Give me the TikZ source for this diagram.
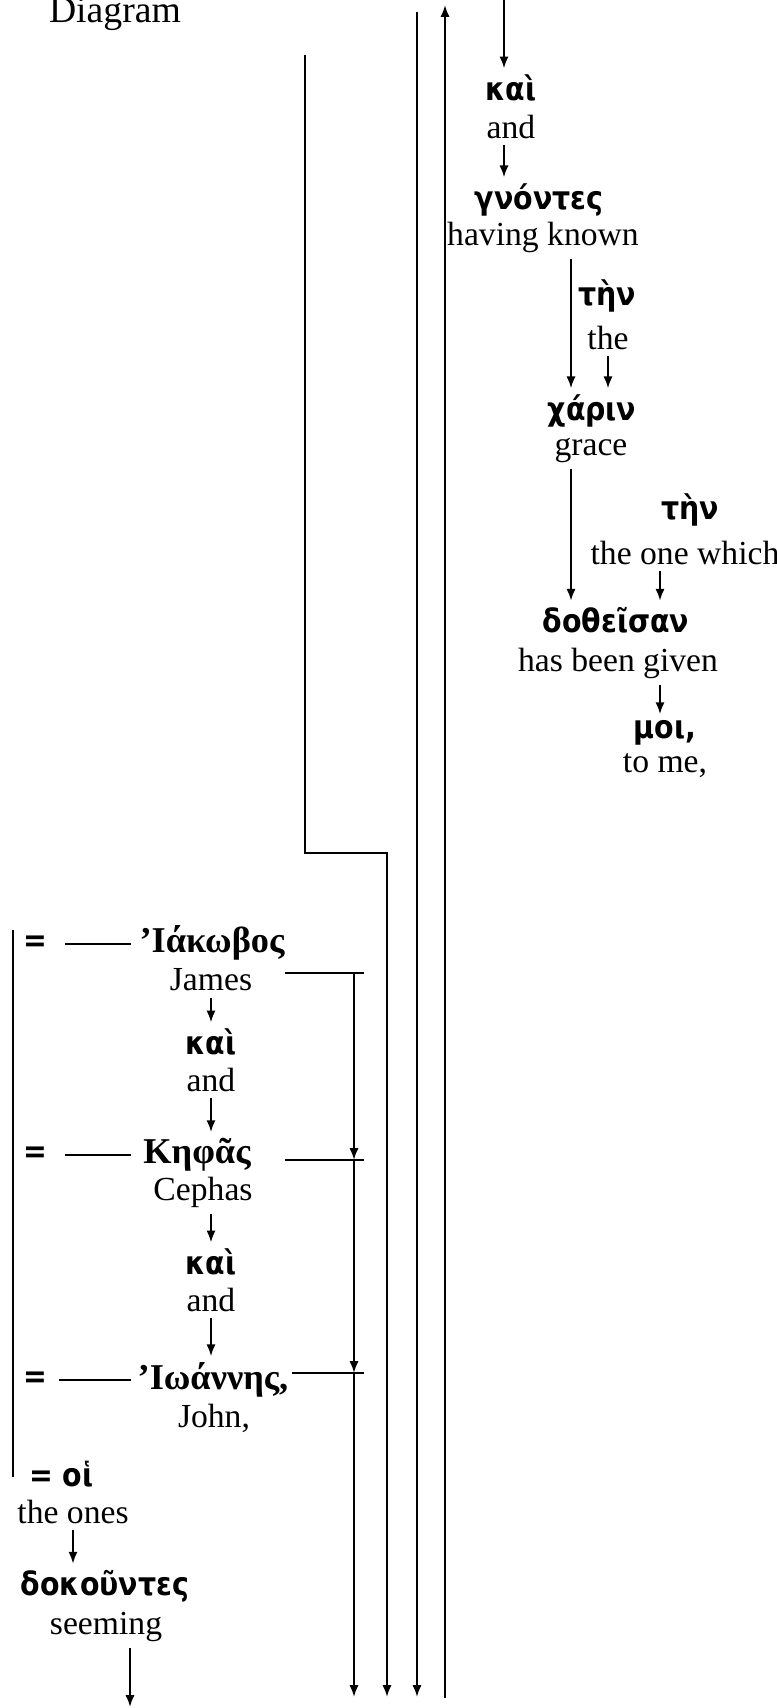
\documentclass[tikz,border=0pt]{standalone}
\usepackage{fontspec}
\setmainfont{Liberation Serif}
\newfontfamily\grk[FakeStretch=0.88]{DejaVu Sans}
\newfontfamily\grkserif{Liberation Serif}
\usetikzlibrary{arrows.meta,calc}
\begin{document}
\begin{tikzpicture}[x=0.3715pt, y=-0.3715pt, >={Latex[length=4.4pt,width=3.4pt]}, line width=.75pt,
	gk/.style={font=\grk\bfseries\fontsize{12}{14}\selectfont, inner sep=2pt},
	gs/.style={font=\grkserif\bfseries\fontsize{13.5}{15}\selectfont, inner sep=2pt},
	en/.style={font=\fontsize{12.5}{14}\selectfont, inner sep=2pt}]
	\useasboundingbox (0,0) rectangle (777,1708);
	\node[anchor=base west, inner sep=0pt, font=\fontsize{14}{16}\selectfont] (title) at (48,23) {Diagram};
	% right column
	\path
	(511,88) node[gk] (kai1) {καὶ}
	(511,127) node[en] (and1) {and}
	(539,200) node[gk] (gno) {γνόντες}
	(543,237) node[en] (hk) {having known}
	(607,296) node[gk] (ten1) {τὴν}
	(608,338) node[en] (the1) {the}
	(592,411) node[gk] (xar) {χάριν}
	(591,450) node[en] (grace) {grace}
	(690,510) node[gk] (ten2) {τὴν}
	(685,553) node[en] (onew) {the one which}
	(616,620) node[gk] (dot) {δοθεῖσαν}
	(618,663) node[en] (hbg) {has been given}
	(665,733) node[gk] (moi) {μοι,}
	(665,766) node[en] (tome) {to me,}
	;
	\coordinate (topD) at (504,0);
	\coordinate (xa) at (571,0);
	\coordinate (xb) at (660,0);
	\draw[->] (topD) -- (topD |- kai1.north);
	\draw[->] (and1.south -| topD) -- (gno.north -| topD);
	\draw[->] (hk.south -| xa) -- (xar.north -| xa);
	\draw[->] (the1.south) -- (the1.south |- xar.north);
	\draw[->] (grace.south -| xa) -- (dot.north -| xa);
	\draw[->] (onew.south -| xb) -- (dot.north -| xb);
	\draw[->] (hbg.south -| xb) -- (moi.north -| xb);
	% long lines
	\coordinate (aTop) at (305,55);
	\coordinate (aMid) at (305,853);
	\coordinate (aBot) at (387,1697);
	\coordinate (bTop) at (417,12);
	\coordinate (bBot) at (417,1697);
	\coordinate (cTop) at (445,5);
	\coordinate (cBot) at (445,1698);
	\draw[->] (aTop) -- (aMid) -| (aBot);
	\draw[->] (bTop) -- (bBot);
	\draw[->] (cBot) -- (cTop);
	% left column
	\path
	(35,944) node[gk] (eq1) {=}
	(212,943) node[gs] (iak) {’Ιάκωβος}
	(211,980) node[en] (jam) {James}
	(211,1042) node[gk] (kai2) {καὶ}
	(211,1080) node[en] (and2) {and}
	(35,1155) node[gk] (eq2) {=}
	(197,1155) node[gs] (kef) {Κηφᾶς}
	(203,1192) node[en] (ceph) {Cephas}
	(211,1262) node[gk] (kai3) {καὶ}
	(211,1300) node[en] (and3) {and}
	(35,1380) node[gk] (eq3) {=}
	(213,1380) node[gs] (ioa) {’Ιωάννης,}
	(214,1418) node[en] (john) {John,}
	(28,1474) node[gk, anchor=west, inner sep=0pt] (oi) {= οἱ}
	(73,1512) node[en] (ones) {the ones}
	(105,1586) node[gk] (dok) {δοκοῦντες}
	(106,1627) node[en] (seem) {seeming}
	;
	\coordinate (eqEnd) at (131,0);
	\draw[shorten <=4.5pt] (eq1.east) -- (eq1.east -| eqEnd);
	\draw[shorten <=4.5pt] (eq2.east) -- (eq2.east -| eqEnd);
	\draw[shorten <=2pt] (eq3.east) -- (eq3.east -| eqEnd);
	\draw[->] (jam.south) -- (jam.south |- kai2.north);
	\draw[->] (and2.south) -- (and2.south |- kef.north);
	\draw[->] (ceph.south -| kai3) -- (kai3.north);
	\draw[->] (and3.south) -- (and3.south |- ioa.north);
	\draw[->] (ones.south) -- (ones.south |- dok.north);
	\coordinate (seemBot) at (130,1707);
	\draw[->] (seem.south -| seemBot) -- (seemBot);
	\coordinate (bar1) at (13,930);
	\coordinate (bar2) at (13,1477);
	\draw (bar1) -- (bar2);
	% bracket to the right
	\coordinate (r1) at (354,973);
	\coordinate (r2) at (354,1160);
	\coordinate (r3) at (354,1373);
	\coordinate (r4) at (354,1697);
	\draw (285,973) -- ([xshift=3.7pt]r1);
	\draw (285,1160) -- ([xshift=3.7pt]r2);
	\draw (292,1373) -- ([xshift=3.7pt]r3);
	\draw[->] (r1) -- (r2);
	\draw[->] (r2) -- (r3);
	\draw[->] (r3) -- (r4);
\end{tikzpicture}
\end{document}
